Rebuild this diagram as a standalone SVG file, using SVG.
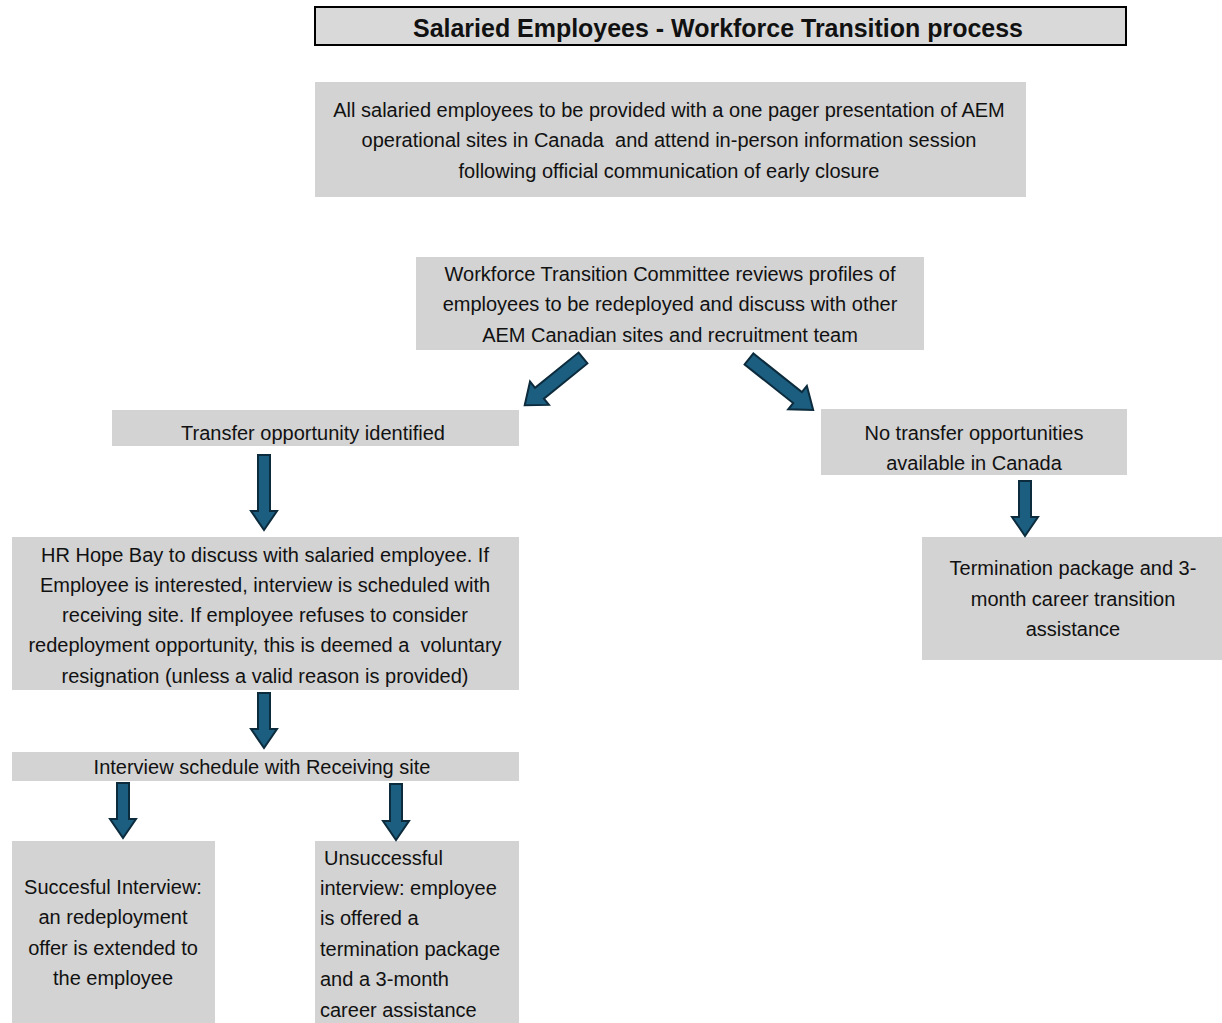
<svg xmlns="http://www.w3.org/2000/svg" width="1222" height="1023" viewBox="0 0 1222 1023">
<style>
.box{fill:#d3d3d3;}
.t{font-family:"Liberation Sans",Arial,sans-serif;font-size:20px;fill:#111;text-anchor:middle;white-space:pre;}
.l{text-anchor:start;}
.arr{fill:#1b5e80;stroke:#0c2b3c;stroke-width:2;stroke-linejoin:miter;}
</style>
<rect width="1222" height="1023" fill="#ffffff"/>
<g id="title">
<rect x="315" y="7" width="811" height="38" fill="#d9d9d9" stroke="#000" stroke-width="2"/>
<text x="718" y="37" font-family="Liberation Sans,Arial,sans-serif" font-weight="bold" font-size="25" text-anchor="middle" textLength="610" lengthAdjust="spacingAndGlyphs" fill="#111">Salaried Employees - Workforce Transition process</text>
</g>
<g id="n1">
<rect class="box" x="315" y="82" width="711" height="115"/>
<text class="t" x="669" y="117">All salaried employees to be provided with a one pager presentation of AEM</text>
<text class="t" x="669" y="147" xml:space="preserve">operational sites in Canada  and attend in-person information session</text>
<text class="t" x="669" y="178">following official communication of early closure</text>
</g>
<g id="n2">
<rect class="box" x="416" y="257" width="508" height="93"/>
<text class="t" x="670" y="281">Workforce Transition Committee reviews profiles of</text>
<text class="t" x="670" y="311">employees to be redeployed and discuss with other</text>
<text class="t" x="670" y="342">AEM Canadian sites and recruitment team</text>
</g>
<g id="n3">
<rect class="box" x="112" y="410" width="407" height="36"/>
<text class="t" x="313" y="440">Transfer opportunity identified</text>
</g>
<g id="n4">
<rect class="box" x="821" y="409" width="306" height="66"/>
<text class="t" x="974" y="440">No transfer opportunities</text>
<text class="t" x="974" y="470">available in Canada</text>
</g>
<g id="n5">
<rect class="box" x="12" y="537" width="507" height="153"/>
<text class="t" x="265" y="562">HR Hope Bay to discuss with salaried employee. If</text>
<text class="t" x="265" y="592">Employee is interested, interview is scheduled with</text>
<text class="t" x="265" y="622">receiving site. If employee refuses to consider</text>
<text class="t" x="265" y="652" xml:space="preserve">redeployment opportunity, this is deemed a  voluntary</text>
<text class="t" x="265" y="683">resignation (unless a valid reason is provided)</text>
</g>
<g id="n6">
<rect class="box" x="12" y="752" width="507" height="29"/>
<text class="t" x="262" y="774">Interview schedule with Receiving site</text>
</g>
<g id="n7">
<rect class="box" x="12" y="841" width="203" height="182"/>
<text class="t" x="113" y="894">Succesful Interview:</text>
<text class="t" x="113" y="924">an redeployment</text>
<text class="t" x="113" y="955">offer is extended to</text>
<text class="t" x="113" y="985">the employee</text>
</g>
<g id="n8">
<rect class="box" x="315" y="841" width="204" height="182"/>
<text class="t l" x="324" y="865">Unsuccessful</text>
<text class="t l" x="320" y="895">interview: employee</text>
<text class="t l" x="320" y="925">is offered a</text>
<text class="t l" x="320" y="956">termination package</text>
<text class="t l" x="320" y="986">and a 3-month</text>
<text class="t l" x="320" y="1017">career assistance</text>
</g>
<g id="n9">
<rect class="box" x="922" y="537" width="300" height="123"/>
<text class="t" x="1073" y="575">Termination package and 3-</text>
<text class="t" x="1073" y="606">month career transition</text>
<text class="t" x="1073" y="636">assistance</text>
</g>
<g id="connectors">
<polygon class="arr" transform="translate(583,358) rotate(51)" points="-7,0 7,0 7,56 15,56 0,75 -15,56 -7,56"/>
<polygon class="arr" transform="translate(749,359) rotate(-51.5)" points="-7,0 7,0 7,62 15,62 0,82 -15,62 -7,62"/>
<polygon class="arr" points="258,455 270,455 270,511 277,511 264,530 251,511 258,511"/>
<polygon class="arr" points="1019,481 1031,481 1031,517 1038,517 1025,536 1012,517 1019,517"/>
<polygon class="arr" points="258,693 270,693 270,729 277,729 264,748 251,729 258,729"/>
<polygon class="arr" points="117,783 129,783 129,819 136,819 123,838 110,819 117,819"/>
<polygon class="arr" points="390,784 402,784 402,821 409,821 396,840 383,821 390,821"/>
</g>
</svg>
